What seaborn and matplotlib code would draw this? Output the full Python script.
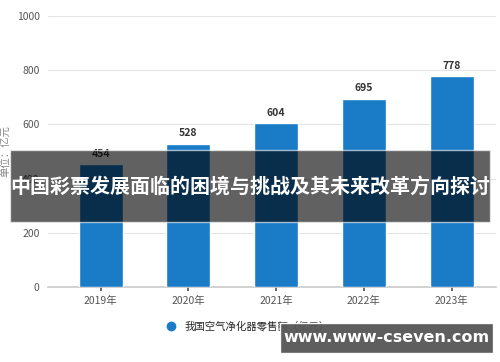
import matplotlib
matplotlib.use("Agg")
import matplotlib.pyplot as plt
import seaborn as sns
import pandas as pd
from matplotlib.patches import Rectangle
from matplotlib.lines import Line2D

years = ["2019年", "2020年", "2021年", "2022年", "2023年"]
values = [454, 528, 604, 695, 778]
yticks = [0, 200, 400, 600, 800, 1000]
series_name = "我国空气净化器零售额（亿元）"
y_label = "单位：亿元"
title = "中国彩票发展面临的困境与挑战及其未来改革方向探讨"
watermark = "www.www-cseven.com"

sns.set_theme(style="white")
plt.rcParams['font.family'] = ['Noto Sans CJK SC', 'DejaVu Sans']

df = pd.DataFrame({"year": years, "value": values})

fig = plt.figure(figsize=(5.0, 3.62), dpi=100)
ax = fig.add_axes([0.096, 0.207, 0.895, 0.749])
sns.barplot(data=df, x="year", y="value", color="#1a7bc7", width=0.5,
            saturation=1, ax=ax, zorder=3)
ax.set_xlim(-0.6, 4.5)
ax.set_ylim(0, 1000)
ax.set_yticks(yticks)
ax.yaxis.grid(True, color="#e3e3e3", linewidth=0.8, zorder=0)
for s in ["top", "right", "left"]:
    ax.spines[s].set_visible(False)
ax.spines["bottom"].set_color("#cccccc")
ax.tick_params(axis="y", length=0, labelsize=7.5, colors="#555555", pad=6)
ax.tick_params(axis="x", length=3, labelsize=7.5, colors="#555555", bottom=True)
ax.set_xlabel("")
ax.set_ylabel(y_label, fontsize=7.5, color="#888888")
ax.yaxis.set_label_coords(-0.082, 0.5)
for i, v in enumerate(values):
    ax.text(i, v + 20, str(v), ha="center", va="bottom", fontsize=7.5,
            fontweight="bold", color="#333333")

handle = Line2D([], [], marker="o", linestyle="", color="#1a7bc7", markersize=6)
fig.legend([handle], [series_name], loc="center", bbox_to_anchor=(0.49, 0.097),
           frameon=False, fontsize=7.5, handletextpad=0.3)

fig.patches.append(Rectangle((0.02, 0.387), 0.96, 0.199, transform=fig.transFigure,
                             facecolor="black", alpha=0.62, zorder=10))
fig.text(0.5, 0.487, title, ha="center", va="center", color="white",
         fontsize=14.4, fontweight="bold", zorder=11)
fig.patches.append(Rectangle((0.56, 0.025), 0.425, 0.083, transform=fig.transFigure,
                             facecolor="#555555", alpha=0.95, zorder=10))
fig.text(0.772, 0.067, watermark, ha="center", va="center", color="white",
         fontsize=11.5, fontweight="bold", zorder=11, family=["DejaVu Sans"])

fig.savefig("out.png", dpi=100)
